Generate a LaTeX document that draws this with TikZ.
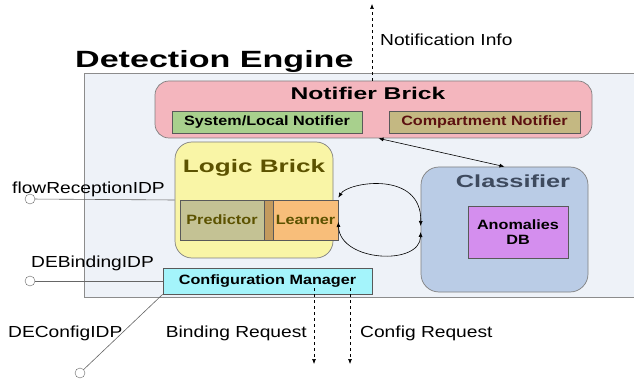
\documentclass[tikz,border=0pt]{standalone}
\usepackage{fontspec}
\setmainfont[FakeStretch=1.2]{Liberation Sans}
\newfontfamily\headfont[FakeStretch=1.45]{Liberation Sans}
\usetikzlibrary{arrows.meta,positioning}
\definecolor{enginebg}{HTML}{EEF2F8}
\definecolor{notifierbg}{HTML}{F4B6BE}
\definecolor{systembg}{HTML}{A8D08D}
\definecolor{compbg}{HTML}{C4B882}
\definecolor{compfg}{HTML}{5C1010}
\definecolor{logicbg}{HTML}{F9F5A6}
\definecolor{logicfg}{HTML}{5C5200}
\definecolor{predbg}{HTML}{C4C294}
\definecolor{stripebg}{HTML}{C39A5E}
\definecolor{learnbg}{HTML}{F8BE7A}
\definecolor{classbg}{HTML}{BACCE6}
\definecolor{classfg}{HTML}{3E4A5E}
\definecolor{anombg}{HTML}{D48EEE}
\definecolor{configbg}{HTML}{A4F4FB}

\begin{document}
\begin{tikzpicture}[x=1pt,y=-1pt,
  brick/.style={draw=black!50,line width=0.7pt,rounded corners=14pt,inner sep=0pt},
  part/.style={draw=black!65,line width=0.6pt,inner sep=0pt,font=\fontsize{13.5}{15}\selectfont\bfseries},
  head/.style={inner sep=0pt,font=\headfont\bfseries\fontsize{#1}{#1}\selectfont},
  lbl/.style={inner sep=0pt,font=\fontsize{16}{18}\selectfont},
  port/.style={circle,draw=black!60,fill=white,minimum size=10pt,inner sep=0pt},
  wire/.style={draw=black!60,line width=0.6pt},
  flow/.style={dashed,line width=0.6pt,-{Latex[length=5pt,width=4pt]}},
  link/.style={line width=0.6pt,{Latex[length=5pt,width=4pt]}-{Latex[length=5pt,width=4pt]}}]
\useasboundingbox (0,0) rectangle (634,379);

\node[draw=black!45,line width=0.8pt,fill=enginebg,minimum width=580pt,minimum height=224pt,inner sep=0pt] (engine) at (374,185) {};
\node[head=23.5,anchor=base west] (enginetitle) at (75,68) {Detection Engine};

\node[brick,fill=notifierbg,minimum width=437pt,minimum height=57pt] (notifier) at (373.5,109.5) {};
\node[head=17] (notifiertitle) at (368,93) {Notifier Brick};
\node[part,fill=systembg,minimum width=190pt,minimum height=22pt] (sysnotif) at (267,122) {System/Local Notifier};
\node[part,fill=compbg,text=compfg,minimum width=191pt,minimum height=22pt] (compnotif) at (484.5,122) {Compartment Notifier};

\node[brick,rounded corners=17pt,fill=logicbg,minimum width=158pt,minimum height=116pt] (logic) at (254,200) {};
\node[head=18,text=logicfg] (logictitle) at (254,168) {Logic Brick};
\node[part,fill=predbg,text=logicfg,minimum width=84pt,minimum height=40pt] (predictor) at (222,220) {Predictor};
\node[part,fill=stripebg,minimum width=9pt,minimum height=40pt] (stripe) at (268.5,220) {};
\node[part,fill=learnbg,text=logicfg,minimum width=65pt,minimum height=40pt] (learner) at (305.5,220) {Learner};

\node[brick,rounded corners=18pt,fill=classbg,minimum width=167pt,minimum height=125pt] (classifier) at (504.5,229.5) {};
\node[head=17.5,text=classfg] (classtitle) at (513,181) {Classifier};
\node[part,fill=anombg,align=center,minimum width=100pt,minimum height=52pt] (anomalies) at (518,232) {Anomalies\\DB};

\node[part,fill=configbg,minimum width=209pt,minimum height=26pt] (config) at (267.5,281) {Configuration Manager};

\node[port] (flowport) at (30,199) {};
\node[port] (bindport) at (30,281) {};
\node[port] (cfgport) at (80,373) {};
\draw[wire] (flowport) -- (logic.west);
\draw[wire] (bindport) -- (config.west);
\draw[wire] (cfgport) -- (config.south west);
\node[lbl,anchor=base west] (flowlbl) at (12,194) {flowReceptionIDP};
\node[lbl,anchor=base west] (bindlbl) at (31,268) {DEBindingIDP};
\node[lbl,anchor=base west] (cfglbl) at (8,337) {DEConfigIDP};

\coordinate (notifend) at (372,4);
\draw[flow] (notifier.north -| notifend) -- (notifend);
\node[lbl,anchor=base west] (notiflbl) at (380,46) {Notification Info};

\draw[link] ([xshift=5pt]notifier.south) -- (classifier.north);
\draw[link] ([yshift=2pt]learner.north east) .. controls (348,182) and (422,170) .. ([yshift=3.5pt]classifier.west);
\draw[link] ([yshift=-2pt]learner.east) .. controls (340,262) and (420,266) .. ([yshift=-2.5pt]classifier.west);

\coordinate (bindend) at (314,364);
\coordinate (cfgend) at (350,364);
\draw[flow] ([yshift=6pt]config.south -| bindend) -- (bindend);
\draw[flow] ([yshift=6pt]config.south -| cfgend) -- (cfgend);
\node[lbl,anchor=base east] (bindreq) at (307,337) {Binding Request};
\node[lbl,anchor=base west] (cfgreq) at (360,337) {Config Request};
\end{tikzpicture}
\end{document}
